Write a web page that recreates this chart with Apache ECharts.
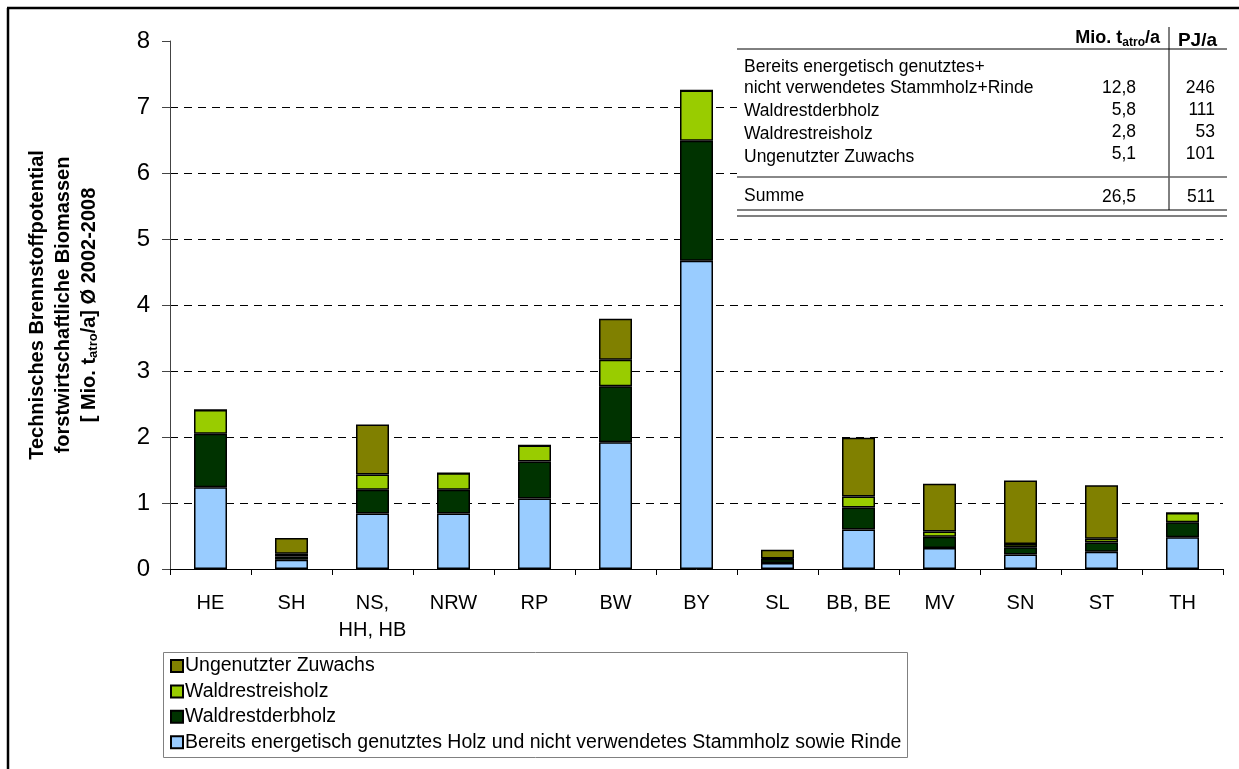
<!DOCTYPE html>
<html>
<head>
<meta charset="utf-8">
<script src="https://cdn.jsdelivr.net/npm/echarts@6/dist/echarts.min.js"></script>
<style>html,body{margin:0;padding:0;background:#fff}#c{width:1239px;height:769px}</style>
</head>
<body>
<div id="c"></div>
<script>
const categories = ['HE', 'SH', 'NS,\nHH, HB', 'NRW', 'RP', 'BW', 'BY', 'SL', 'BB, BE', 'MV', 'SN', 'ST', 'TH'];
const bereits   = [1.24, 0.14, 0.84, 0.84, 1.07, 1.92, 4.67, 0.09, 0.60, 0.32, 0.22, 0.26, 0.48];
const derbholz  = [0.81, 0.05, 0.36, 0.36, 0.56, 0.85, 1.82, 0.06, 0.33, 0.17, 0.11, 0.14, 0.23];
const reisholz  = [0.36, 0.04, 0.23, 0.25, 0.24, 0.40, 0.76, 0.01, 0.17, 0.08, 0.05, 0.06, 0.14];
const zuwachs   = [0.00, 0.24, 0.76, 0.00, 0.00, 0.62, 0.00, 0.13, 0.89, 0.72, 0.96, 0.81, 0.00];
const seriesNames = ['Bereits energetisch genutztes Holz und nicht verwendetes Stammholz sowie Rinde', 'Waldrestderbholz', 'Waldrestreisholz', 'Ungenutzter Zuwachs'];
const tableLabels = ['Bereits energetisch genutztes+\nnicht verwendetes Stammholz+Rinde', 'Waldrestderbholz', 'Waldrestreisholz', 'Ungenutzter Zuwachs'];
const tableMio = ['12,8', '5,8', '2,8', '5,1'];
const tablePJ = ['246', '111', '53', '101'];
const sumMio = '26,5';
const sumPJ = '511';

const colors = ['#99CCFF', '#003300', '#99CC00', '#808000'];
const FONT = "'Liberation Sans', Arial, sans-serif";
const values = [bereits, derbholz, reisholz, zuwachs];

const chart = echarts.init(document.getElementById('c'), null, {renderer: 'canvas'});

const series = seriesNames.map((n, i) => ({
  name: n, type: 'bar', stack: 'total', data: values[i], barWidth: 33,
  itemStyle: {color: colors[i], borderColor: '#000', borderWidth: 1.5},
  emphasis: {disabled: true}
}));

const labelY = [78, 111, 134, 157];
const numY = [88, 110, 132, 154];
const TF = "17.5px " + FONT;
const graphics = [
  {type: 'line', shape: {x1: 7, y1: 8, x2: 1239, y2: 8}, style: {stroke: '#000', lineWidth: 2.5}, z: 100},
  {type: 'line', shape: {x1: 8, y1: 8, x2: 8, y2: 769}, style: {stroke: '#000', lineWidth: 2.5}, z: 100},
  {type: 'rect', shape: {x: 163.5, y: 652.5, width: 744, height: 105}, style: {fill: 'none', stroke: '#808080', lineWidth: 1}, z: 1},
  {type: 'rect', shape: {x: 737, y: 26, width: 492, height: 194}, style: {fill: '#fff'}, z: 50},
  {type: 'line', shape: {x1: 737, y1: 49, x2: 1227, y2: 49}, style: {stroke: '#000', lineWidth: 1}, z: 51},
  {type: 'line', shape: {x1: 1169, y1: 27, x2: 1169, y2: 210}, style: {stroke: '#000', lineWidth: 1}, z: 51},
  {type: 'line', shape: {x1: 737, y1: 177, x2: 1227, y2: 177}, style: {stroke: '#606060', lineWidth: 1.5}, z: 51},
  {type: 'line', shape: {x1: 737, y1: 210, x2: 1227, y2: 210}, style: {stroke: '#000', lineWidth: 1}, z: 51},
  {type: 'line', shape: {x1: 737, y1: 216, x2: 1227, y2: 216}, style: {stroke: '#000', lineWidth: 1}, z: 51},
  {type: 'text', x: 1160, y: 38, z: 52, style: {text: '{b|Mio. t}{s|atro}{b|/a}', textAlign: 'right', textVerticalAlign: 'middle',
     rich: {b: {font: "bold 18px " + FONT, fill: '#000'}, s: {font: "bold 12px " + FONT, fill: '#000', padding: [9, 0, 0, 0]}}}},
  {type: 'text', x: 1217, y: 41, z: 52, style: {text: 'PJ/a', textAlign: 'right', textVerticalAlign: 'middle', font: "bold 19px " + FONT, fill: '#000'}},
  {type: 'text', x: 744, y: 196, z: 52, style: {text: 'Summe', textAlign: 'left', textVerticalAlign: 'middle', font: TF, fill: '#000'}},
  {type: 'text', x: 1136, y: 197, z: 52, style: {text: sumMio, textAlign: 'right', textVerticalAlign: 'middle', font: TF, fill: '#000'}},
  {type: 'text', x: 1215, y: 197, z: 52, style: {text: sumPJ, textAlign: 'right', textVerticalAlign: 'middle', font: TF, fill: '#000'}}
];
tableLabels.forEach((t, i) => {
  graphics.push({type: 'text', x: 744, y: labelY[i], z: 52, style: {text: t, textAlign: 'left', textVerticalAlign: 'middle', font: TF, lineHeight: 21, fill: '#000'}});
  graphics.push({type: 'text', x: 1136, y: numY[i], z: 52, style: {text: tableMio[i], textAlign: 'right', textVerticalAlign: 'middle', font: TF, fill: '#000'}});
  graphics.push({type: 'text', x: 1215, y: numY[i], z: 52, style: {text: tablePJ[i], textAlign: 'right', textVerticalAlign: 'middle', font: TF, fill: '#000'}});
});

chart.setOption({
  animation: false,
  backgroundColor: '#fff',
  textStyle: {fontFamily: FONT},
  grid: {left: 170, right: 16, top: 41, bottom: 200, containLabel: false, outerBoundsMode: 'none'},
  legend: {
    orient: 'vertical', left: 170, top: 656, padding: 0, itemGap: 5.4,
    itemWidth: 12, itemHeight: 12, icon: 'rect',
    data: [seriesNames[3], seriesNames[2], seriesNames[1], seriesNames[0]],
    textStyle: {fontSize: 19.5, color: '#000', fontFamily: FONT, padding: [0, 0, 0, -3], lineHeight: 20},
    selectedMode: false
  },
  xAxis: {
    type: 'category', data: categories,
    axisLine: {lineStyle: {color: '#000', width: 1}},
    axisTick: {show: true, interval: 0, length: 6, lineStyle: {color: '#000'}},
    axisLabel: {interval: 0, fontSize: 20, color: '#000', margin: 21, lineHeight: 27, fontFamily: FONT, hideOverlap: false}
  },
  yAxis: {
    type: 'value', min: 0, max: 8, interval: 1,
    name: '{a|Technisches Brennstoffpotential}\n{a|forstwirtschaftliche Biomassen}\n{a|[ Mio. t}{s|atro}{a|/a] Ø 2002-2008}',
    nameLocation: 'middle', nameGap: 68, nameRotate: 90,
    nameTextStyle: {
      rich: {
        a: {fontSize: 20, fontWeight: 'bold', color: '#000', fontFamily: FONT, lineHeight: 26},
        s: {fontSize: 13, fontWeight: 'bold', color: '#000', fontFamily: FONT, lineHeight: 26, padding: [9, 0, 0, 0]}
      }
    },
    axisLine: {show: true, lineStyle: {color: '#444', width: 1}},
    axisTick: {show: true, length: 8, lineStyle: {color: '#444'}},
    axisLabel: {fontSize: 24, color: '#000', margin: 20, fontFamily: FONT},
    splitLine: {show: true, showMaxLine: false, lineStyle: {color: '#000', type: [8, 6], width: 1}}
  },
  series: series,
  graphic: graphics
});
</script>
</body>
</html>
